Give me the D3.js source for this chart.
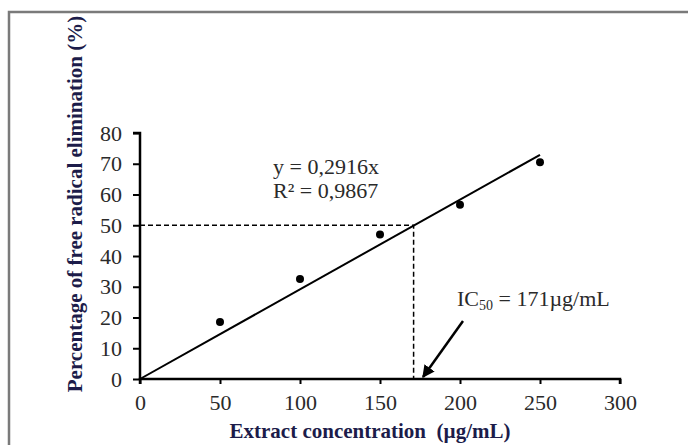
<!DOCTYPE html>
<html>
<head>
<meta charset="utf-8">
<script src="https://cdn.jsdelivr.net/npm/d3@7"></script>
<style>
  body { margin: 0; background: #fff; }
  text { font-family: "Liberation Serif", "Times New Roman", serif; }
</style>
</head>
<body>
<div id="chart"></div>
<script>
// Our data
const concentrations = [50, 100, 150, 200, 250]
const elimination = [18.5, 32.5, 47, 56.7, 70.5]
const xTicks = [0, 50, 100, 150, 200, 250, 300]
const yTicks = [0, 10, 20, 30, 40, 50, 60, 70, 80]
const slope = 0.2916
const ic50 = 171
const equationLines = ['y = 0,2916x', 'R\u00b2 = 0,9867']

// Our canvas
const width = 688,
  height = 445

const svg = d3.select('#chart')
  .append('svg')
  .attr('width', width)
  .attr('height', height)

// frame
svg.append('path')
  .attr('d', 'M9,445 L9,12 L688,12')
  .attr('fill', 'none')
  .attr('stroke', '#7a7a7a')
  .attr('stroke-width', 2.5)

const xScale = d3.scaleLinear()
  .domain([0, 300])
  .range([140, 620])

const yScale = d3.scaleLinear()
  .domain([0, 80])
  .range([379, 133])

const xAxis = d3.axisBottom(xScale)
  .tickValues(xTicks)
  .tickSize(5)
  .tickPadding(10)

const yAxis = d3.axisLeft(yScale)
  .tickValues(yTicks)
  .tickSize(7)
  .tickPadding(11)

const gx = svg.append('g')
  .attr('transform', `translate(0, ${yScale(0)})`)
  .call(xAxis)

const gy = svg.append('g')
  .attr('transform', `translate(${xScale(0)}, 0)`)
  .call(yAxis)

;[gx, gy].forEach(g => {
  g.select('.domain').attr('stroke', '#000').attr('stroke-width', 2.5)
  g.selectAll('.tick line').attr('stroke', '#000').attr('stroke-width', 2)
  g.selectAll('.tick text')
    .attr('font-family', '"Liberation Serif", serif')
    .attr('font-size', 22)
    .attr('fill', '#2a2a2a')
})
gx.select('.domain').attr('d', `M${xScale(0)},5V0H${xScale(300)}V5`)
gy.select('.domain').attr('d', `M-7,${yScale(80)}H0V${yScale(0)}`)

// dashed IC50 guides
svg.append('path')
  .attr('d', `M${xScale(0)},${yScale(50)}H${xScale(ic50)}V${yScale(0)}`)
  .attr('fill', 'none')
  .attr('stroke', '#000')
  .attr('stroke-width', 1.5)
  .attr('stroke-dasharray', '5,3')

// trend line
svg.append('line')
  .attr('x1', xScale(0))
  .attr('y1', yScale(0))
  .attr('x2', xScale(250))
  .attr('y2', yScale(slope * 250))
  .attr('stroke', '#000')
  .attr('stroke-width', 2)

// points
svg.selectAll('circle.pt')
  .data(concentrations)
  .enter()
  .append('circle')
  .attr('class', 'pt')
  .attr('cx', d => xScale(d))
  .attr('cy', (d, i) => yScale(elimination[i]))
  .attr('r', 4)
  .attr('fill', '#000')

// equation
svg.append('text')
  .attr('y', 174)
  .attr('font-size', 22)
  .attr('fill', '#2a2a2a')
  .selectAll('tspan')
  .data(equationLines)
  .enter()
  .append('tspan')
  .attr('x', 273)
  .attr('dy', (d, i) => i === 0 ? 0 : 24)
  .text(d => d)

// IC50 label
const ic = svg.append('text')
  .attr('x', 457)
  .attr('y', 306)
  .attr('font-size', 22)
  .attr('fill', '#2a2a2a')
ic.append('tspan').text('IC')
ic.append('tspan').attr('font-size', 14).attr('dy', 4).text('50')
ic.append('tspan').attr('dy', -4).text(' = 171\u00b5g/mL')

// arrow
svg.append('defs').append('marker')
  .attr('id', 'arrow')
  .attr('viewBox', '0 0 10 10')
  .attr('refX', 9)
  .attr('refY', 5)
  .attr('markerWidth', 5)
  .attr('markerHeight', 5)
  .attr('orient', 'auto')
  .append('path')
  .attr('d', 'M0,0L10,5L0,10z')
  .attr('fill', '#000')

svg.append('line')
  .attr('x1', 463)
  .attr('y1', 321)
  .attr('x2', 423)
  .attr('y2', 377)
  .attr('stroke', '#000')
  .attr('stroke-width', 2.5)
  .attr('marker-end', 'url(#arrow)')

// axis titles
svg.append('text')
  .attr('x', 370)
  .attr('y', 438)
  .attr('text-anchor', 'middle')
  .attr('font-size', 21)
  .attr('font-weight', 'bold')
  .attr('fill', '#1c1c4a')
  .text('Extract concentration\u00a0 (\u00b5g/mL)')

svg.append('text')
  .attr('transform', 'translate(82, 204) rotate(-90)')
  .attr('text-anchor', 'middle')
  .attr('font-size', 21)
  .attr('font-weight', 'bold')
  .attr('fill', '#1c1c4a')
  .text('Percentage of free radical elimination (%)')
</script>
</body>
</html>
